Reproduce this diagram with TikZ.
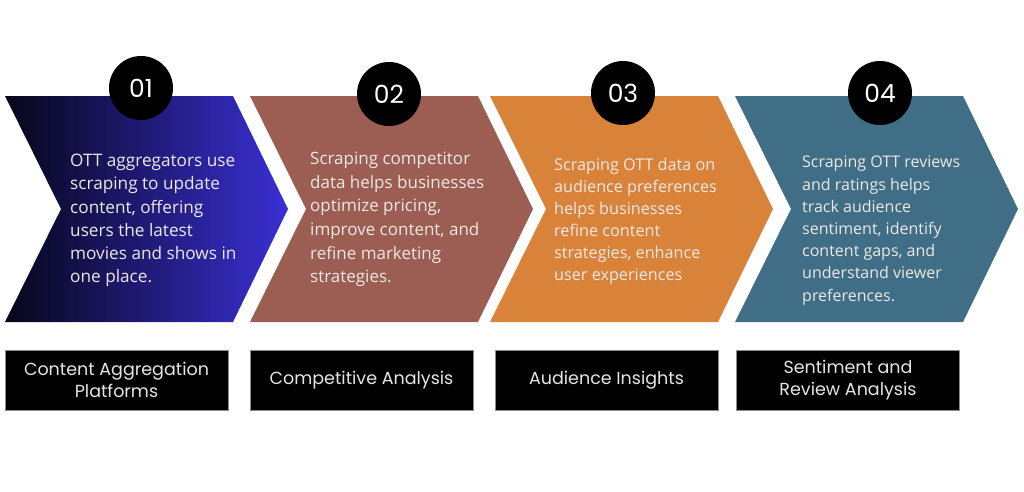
\documentclass[tikz,border=0pt]{standalone}
\usepackage{fontspec}
\setmainfont{Open Sans}
\newfontfamily\numfont{Poppins}
\usepackage{xcolor}
\definecolor{OttNavy}{RGB}{6,6,26}
\definecolor{OttBlue}{RGB}{58,47,212}
\definecolor{OttBrown}{RGB}{156,94,82}
\definecolor{OttOrange}{RGB}{217,131,58}
\definecolor{OttTeal}{RGB}{63,110,134}
\definecolor{OttText}{RGB}{236,232,228}
\usepackage{tikz}
\usetikzlibrary{positioning}

\tikzset{
  chevtext/.style={anchor=north west, inner sep=0pt, align=left, text=OttText},
  numdot/.style={circle, fill=black, minimum size=64pt, inner sep=0pt, text=white, font=\numfont\fontsize{25}{25}\selectfont},
  tagbox/.style={fill=black, draw=black!45, minimum width=223pt, minimum height=60pt, inner sep=0pt, align=center, text=black!10, font=\numfont\fontsize{17.5}{22}\selectfont},
}
\newcommand{\chevron}[1]{(#1,96) -- ++(228,0) -- ++(55,113) -- ++(-55,113) -- ++(-228,0) -- ++(56,-113) -- cycle}

\begin{document}
\begin{tikzpicture}[x=1pt, y=-1pt]
			\useasboundingbox (0,0) rectangle (1024,491);
			% Flechas
			\shade[left color=OttNavy, right color=OttBlue] \chevron{5};
			\foreach \l/\col in {250/OttBrown, 490/OttOrange, 735/OttTeal}
			  \fill[\col] \chevron{\l};
			% Textos
			\node[chevtext, font=\fontsize{17.2}{23.2}\selectfont] (t1) at (70,154) {OTT aggregators use\\scraping to update\\content, offering\\users the latest\\movies and shows in\\one place.};
			\node[chevtext, font=\fontsize{17}{23.6}\selectfont] (t2) at (310,152) {Scraping competitor\\data helps businesses\\optimize pricing,\\improve content, and\\refine marketing\\strategies.};
			\node[chevtext, font=\fontsize{16.2}{22}\selectfont] (t3) at (554,158) {Scraping OTT data on\\audience preferences\\helps businesses\\refine content\\strategies, enhance\\user experiences};
			\node[chevtext, font=\fontsize{16}{22.2}\selectfont] (t4) at (802,156) {Scraping OTT reviews\\and ratings helps\\track audience\\sentiment, identify\\content gaps, and\\understand viewer\\preferences.};
			% Numeros
			\node[numdot] (c1) at (141,88) {01};
			\node[numdot] (c2) at (389,94) {02};
			\node[numdot] (c3) at (623,93) {03};
			\node[numdot] (c4) at (880,93) {04};
			% Etiquetas
			\node[tagbox] (b1) at (116.5,380) {Content Aggregation\\Platforms};
			\node[tagbox] (b2) at (361.5,380) {Competitive Analysis};
			\node[tagbox] (b3) at (606.5,380) {Audience Insights};
			\node[tagbox] (b4) at (848,380) {Sentiment and\\Review Analysis};
			\end{tikzpicture}
\end{document}
